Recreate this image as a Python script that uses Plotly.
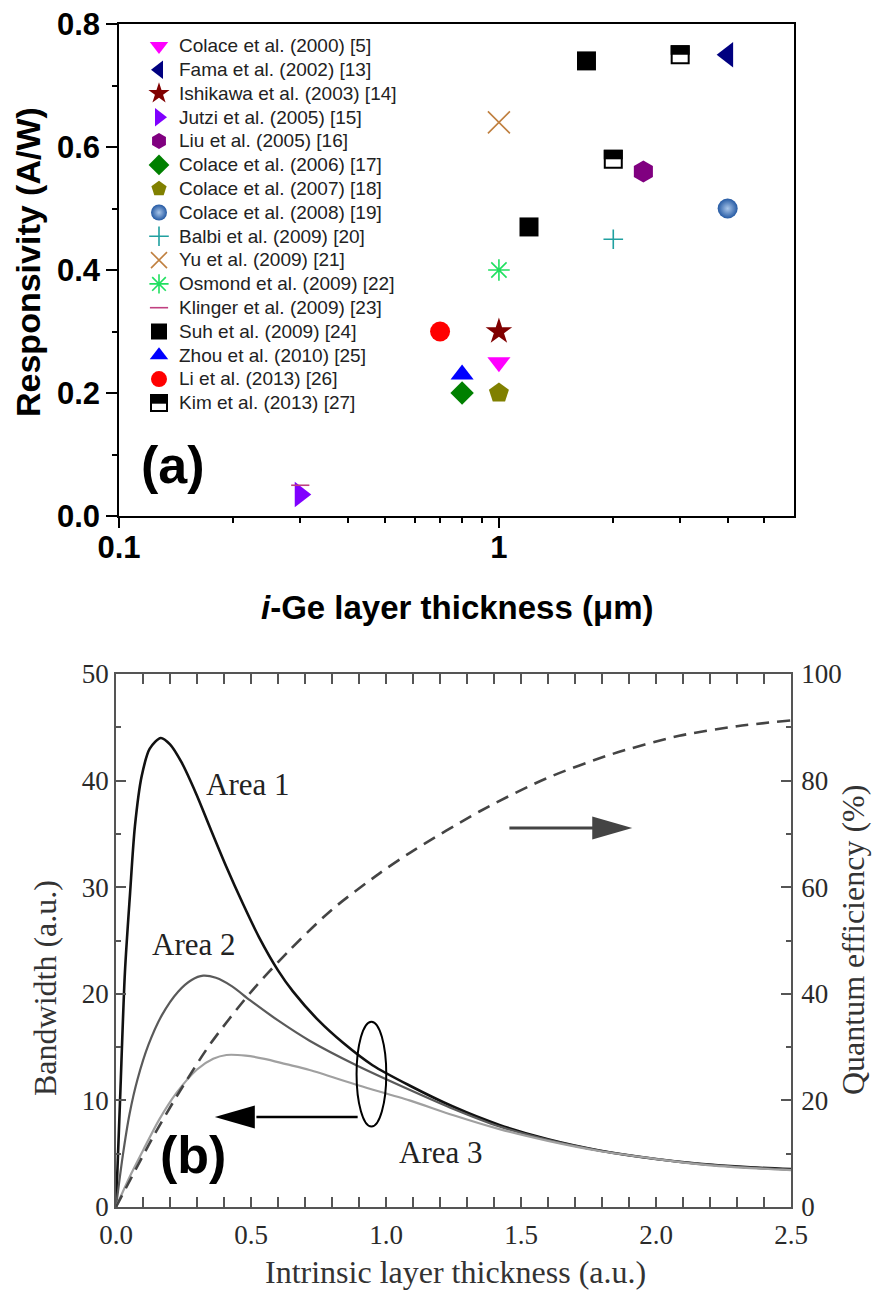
import plotly.graph_objects as go
import numpy as np

W, H = 885, 1290

# ---------------- Panel (a) data ----------------
names = [
    "Colace et al. (2000) [5]", "Fama et al. (2002) [13]", "Ishikawa et al. (2003) [14]",
    "Jutzi et al. (2005) [15]", "Liu et al. (2005) [16]", "Colace et al. (2006) [17]",
    "Colace et al. (2007) [18]", "Colace et al. (2008) [19]", "Balbi et al. (2009) [20]",
    "Yu et al. (2009) [21]", "Osmond et al. (2009) [22]", "Klinger et al. (2009) [23]",
    "Suh et al. (2009) [24]", "Zhou et al. (2010) [25]", "Li et al. (2013) [26]",
    "Kim et al. (2013) [27]",
]
thickness_um = [
    [1.0], [4.0], [1.0], [0.3], [2.4], [0.8], [1.0], [4.0], [2.0], [1.0], [1.0], [0.3],
    [1.7, 1.2], [0.8], [0.7], [3.0, 2.0],
]
responsivity = [
    [0.25], [0.75], [0.30], [0.035], [0.56], [0.20], [0.20], [0.50], [0.45], [0.64], [0.40], [0.05],
    [0.74, 0.47], [0.23], [0.30], [0.75, 0.58],
]
x_ticks_a = [0.1, 1]
x_ticklabels_a = ["0.1", "1"]
x_minor_a = [0.2, 0.3, 0.4, 0.5, 0.6, 0.7, 0.8, 0.9, 2, 3, 4, 5]
y_ticks_a = [0.0, 0.2, 0.4, 0.6, 0.8]
y_ticklabels_a = ["0.0", "0.2", "0.4", "0.6", "0.8"]
y_minor_a = [0.1, 0.3, 0.5, 0.7]

# ---------------- Panel (b) data ----------------
area1_x = [0, 0.015, 0.033, 0.052, 0.07, 0.095, 0.125, 0.166, 0.2, 0.243, 0.298, 0.348, 0.409,
           0.471, 0.53, 0.6, 0.656, 0.75, 0.841, 0.95, 1.087, 1.25, 1.42, 1.6, 1.79, 2.0, 2.16, 2.35, 2.5]
area1_bw = [0, 10, 22, 29.4, 35.7, 40.4, 43.0, 44.0, 43.4, 41.7, 38.7, 35.6, 31.9,
            28.4, 25.3, 22.2, 20.2, 17.5, 15.4, 13.3, 11.4, 9.4, 7.7, 6.35, 5.3, 4.5, 4.05, 3.72, 3.55]
area2_x = [0, 0.025, 0.05, 0.08, 0.12, 0.17, 0.23, 0.28, 0.323, 0.37, 0.43, 0.496, 0.6, 0.717,
           0.89, 1.087, 1.25, 1.42, 1.6, 1.79, 2.0, 2.16, 2.35, 2.5]
area2_bw = [0, 4.8, 8.7, 12.0, 15.2, 18.0, 20.2, 21.3, 21.7, 21.5, 20.7, 19.4, 17.5, 15.6,
            13.3, 11.0, 9.2, 7.55, 6.3, 5.3, 4.5, 4.05, 3.7, 3.5]
area3_x = [0, 0.05, 0.101, 0.16, 0.224, 0.3, 0.36, 0.409, 0.48, 0.55, 0.63, 0.717, 0.9, 1.087,
           1.25, 1.42, 1.6, 1.79, 2.0, 2.16, 2.35, 2.5]
area3_bw = [0, 2.8, 5.35, 8.2, 10.7, 12.9, 13.9, 14.26, 14.2, 13.9, 13.4, 12.85, 11.4, 10.0,
            8.6, 7.3, 6.2, 5.25, 4.5, 4.0, 3.65, 3.45]
qe_x = [0, 0.138, 0.224, 0.348, 0.496, 0.643, 0.8, 0.976, 1.087, 1.346, 1.593, 1.839, 2.086, 2.3, 2.5]
qe_pct = [0, 13.2, 20.7, 30.5, 40.1, 48.2, 55.8, 62.6, 66.4, 74.2, 80.4, 85.0, 88.4, 90.2, 91.3]

# ---------------- styles ----------------
symbols = ["triangle-down", "triangle-left", "star", "triangle-right", "hexagon", "diamond",
           "pentagon", "circle", "cross-thin", "x-thin", "asterisk", "line-ew", "square",
           "triangle-up", "circle", "square"]
colors = ["#ff00ff", "#000080", "#800000", "#8000ff", "#800080", "#008000", "#808000",
          "#2459a3", "#20a0a0", "#c08040", "#20e060", "#c04080", "#000000", "#0000ff",
          "#ff0000", "#000000"]
sizes = [20, 22, 20, 22, 22, 18, 21, 20, 14, 22, 18, 13, 19, 20, 20, 17]
line_only = {"cross-thin", "x-thin", "asterisk", "line-ew"}

SANS = "Liberation Sans"
SERIF = "Liberation Serif"

# legend placement (px)
LEG_LEFT, LEG_TOP = 139, 29
LEG_SYM_DX, LEG_SYM_DY, LEG_ROW = 19.2, 19.2, 23.7


def px(x):
    return x / W


def py(y):
    return 1 - y / H


fig = go.Figure()

for i, nm in enumerate(names):
    sym = symbols[i]
    mk = dict(symbol=sym, size=sizes[i], color=colors[i], line=dict(width=0))
    if sym in line_only:
        mk["line"] = dict(width=1.6, color=colors[i])
    if i == 7:
        mk["gradient"] = dict(type="radial", color="#a9c6ea")
    if i == 15:
        mk["color"] = "rgba(255,255,255,0)"
        mk["line"] = dict(width=2, color="black")
    fig.add_trace(go.Scatter(
        x=thickness_um[i], y=responsivity[i], mode="markers",
        name='<span style="font-size:19px">' + nm + "</span>",
        marker=mk, xaxis="x", yaxis="y", hoverinfo="skip"))

# panel b curves
fig.add_trace(go.Scatter(x=area1_x, y=area1_bw, mode="lines", xaxis="x2", yaxis="y2",
                         line=dict(color="#111111", width=2.6, shape="spline", smoothing=0.8),
                         showlegend=False))
fig.add_trace(go.Scatter(x=area2_x, y=area2_bw, mode="lines", xaxis="x2", yaxis="y2",
                         line=dict(color="#5a5a5a", width=2.2, shape="spline", smoothing=0.8),
                         showlegend=False))
fig.add_trace(go.Scatter(x=area3_x, y=area3_bw, mode="lines", xaxis="x2", yaxis="y2",
                         line=dict(color="#a0a0a0", width=2.2, shape="spline", smoothing=0.8),
                         showlegend=False))
fig.add_trace(go.Scatter(x=qe_x, y=qe_pct, mode="lines", xaxis="x2", yaxis="y3",
                         line=dict(color="#444444", width=2.6, dash="13px,8px", shape="spline",
                                   smoothing=0.8),
                         showlegend=False))

tickfont_a = dict(family=SANS, size=31, color="black", weight="bold")
tickfont_b = dict(family=SERIF, size=27, color="#2a2a2a")

layout_axes = dict(
    xaxis=dict(type="log", domain=[px(119), px(794)], anchor="y", range=[-1, np.log10(5.98)],
               tickmode="array", tickvals=x_ticks_a, ticktext=x_ticklabels_a,
               ticks="outside", ticklen=10, tickwidth=1.5, tickcolor="black",
               ticklabelstandoff=-7,
               showline=True, linecolor="black", linewidth=1.5, mirror=True,
               showgrid=False, zeroline=False, tickfont=tickfont_a,
               minor=dict(tickmode="array", tickvals=x_minor_a, ticks="outside", ticklen=5,
                          tickwidth=1.5, tickcolor="black", showgrid=False)),
    yaxis=dict(domain=[py(516), py(24)], anchor="x", range=[0, 0.8],
               tickmode="array", tickvals=y_ticks_a, ticktext=y_ticklabels_a,
               ticks="outside", ticklen=11, tickwidth=1.5, tickcolor="black",
               showline=True, linecolor="black", linewidth=1.5, mirror=True,
               showgrid=False, zeroline=False, tickfont=tickfont_a,
               minor=dict(tickmode="array", tickvals=y_minor_a, ticks="outside", ticklen=5,
                          tickwidth=1.5, tickcolor="black", showgrid=False)),
    xaxis2=dict(domain=[px(116), px(791)], anchor="y2", range=[0, 2.5], dtick=0.5, tick0=0,
                tickformat=".1f", ticks="inside", ticklen=10, tickwidth=1.5, tickcolor="#555",
                ticklabelstandoff=3,
                showline=True, linecolor="#555", linewidth=1.5, mirror="allticks",
                showgrid=False, zeroline=False, tickfont=tickfont_b,
                minor=dict(dtick=0.1, ticks="inside", ticklen=5, tickwidth=1.5,
                           tickcolor="#555", showgrid=False)),
    yaxis2=dict(domain=[py(1207), py(674)], anchor="x2", range=[0, 50], dtick=10, tick0=0,
                ticks="inside", ticklen=10, tickwidth=1.5, tickcolor="#555",
                showline=True, linecolor="#555", linewidth=1.5,
                showgrid=False, zeroline=False, tickfont=tickfont_b,
                minor=dict(dtick=5, ticks="inside", ticklen=5, tickwidth=1.5,
                           tickcolor="#555", showgrid=False)),
    yaxis3=dict(overlaying="y2", side="right", anchor="x2", range=[0, 100], dtick=20, tick0=0,
                ticks="inside", ticklen=10, tickwidth=1.5, tickcolor="#555",
                ticklabelstandoff=3,
                showline=True, linecolor="#555", linewidth=1.5,
                showgrid=False, zeroline=False, tickfont=tickfont_b,
                minor=dict(dtick=10, ticks="inside", ticklen=5, tickwidth=1.5,
                           tickcolor="#555", showgrid=False)),
)

annotations = [
    dict(text="<b>(a)</b>", x=px(173), y=py(465), xref="paper", yref="paper", showarrow=False,
         font=dict(family=SANS, size=52, color="black"), xanchor="center", yanchor="middle"),
    dict(text="<b>Responsivity (A/W)</b>", x=px(28), y=py(262), xref="paper", yref="paper",
         showarrow=False, textangle=-90, font=dict(family=SANS, size=34, color="black"),
         xanchor="center", yanchor="middle"),
    dict(text="<b><i>i</i>-Ge layer thickness (μm)</b>", x=px(457), y=py(607), xref="paper",
         yref="paper", showarrow=False, font=dict(family=SANS, size=33, color="black"),
         xanchor="center", yanchor="middle"),
    dict(text="Bandwidth (a.u.)", x=px(45), y=py(988), xref="paper", yref="paper",
         showarrow=False, textangle=-90, font=dict(family=SERIF, size=32, color="#333"),
         xanchor="center", yanchor="middle"),
    dict(text="Quantum efficiency (%)", x=px(853), y=py(940), xref="paper", yref="paper",
         showarrow=False, textangle=-90, font=dict(family=SERIF, size=32, color="#333"),
         xanchor="center", yanchor="middle"),
    dict(text="Intrinsic layer thickness (a.u.)", x=px(455), y=py(1272), xref="paper",
         yref="paper", showarrow=False, font=dict(family=SERIF, size=32, color="#333"),
         xanchor="center", yanchor="middle"),
    dict(text="Area 1", x=0.486, y=39.6, xref="x2", yref="y2", showarrow=False,
         font=dict(family=SERIF, size=31, color="#222"), xanchor="center", yanchor="middle"),
    dict(text="Area 2", x=0.288, y=24.6, xref="x2", yref="y2", showarrow=False,
         font=dict(family=SERIF, size=31, color="#222"), xanchor="center", yanchor="middle"),
    dict(text="Area 3", x=1.202, y=5.07, xref="x2", yref="y2", showarrow=False,
         font=dict(family=SERIF, size=31, color="#222"), xanchor="center", yanchor="middle"),
    dict(text="<b>(b)</b>", x=0.285, y=4.9, xref="x2", yref="y2", showarrow=False,
         font=dict(family=SANS, size=52, color="black"), xanchor="center", yanchor="middle"),
]

shapes = [
    # ellipse grouping the curves
    dict(type="circle", xref="x2", yref="y2", x0=0.891, x1=1.001, y0=7.54, y1=17.38,
         line=dict(color="black", width=2)),
    # left arrow (to bandwidth axis)
    dict(type="line", xref="x2", yref="y2", x0=0.895, x1=0.52, y0=8.44, y1=8.44,
         line=dict(color="black", width=2.5)),
    dict(type="path", xref="x2", yref="y2", xsizemode="pixel", ysizemode="pixel",
         xanchor=0.366, yanchor=8.44, path="M0,0 L40,11.5 L40,-11.5 Z",
         fillcolor="black", line=dict(width=0)),
    # right arrow (to QE axis)
    dict(type="line", xref="x2", yref="y2", x0=1.457, x1=1.77, y0=35.55, y1=35.55,
         line=dict(color="#444", width=3)),
    dict(type="path", xref="x2", yref="y2", xsizemode="pixel", ysizemode="pixel",
         xanchor=1.912, yanchor=35.55, path="M0,0 L-40,11.5 L-40,-11.5 Z",
         fillcolor="#444", line=dict(width=0)),
]
# top-half fill of the half-filled squares (Kim et al.)
for kx, ky in zip(thickness_um[15], responsivity[15]):
    shapes.append(dict(type="path", xref="x", yref="y", xsizemode="pixel", ysizemode="pixel",
                       xanchor=kx, yanchor=ky, path="M-9.5,0 L9.5,0 L9.5,9.5 L-9.5,9.5 Z",
                       fillcolor="black", line=dict(width=0), layer="above"))
# same top-half fill behind the (transparent) legend symbol of Kim et al.
kim_cx = LEG_LEFT + LEG_SYM_DX
kim_cy = LEG_TOP + LEG_SYM_DY + LEG_ROW * (len(names) - 1)
shapes.append(dict(type="rect", xref="paper", yref="paper",
                   x0=px(kim_cx - 8), x1=px(kim_cx + 8),
                   y0=py(kim_cy), y1=py(kim_cy - 8),
                   fillcolor="black", line=dict(width=0), layer="above"))

fig.update_layout(
    width=W, height=H, margin=dict(l=0, r=0, t=0, b=0, autoexpand=False),
    paper_bgcolor="white", plot_bgcolor="white",
    showlegend=True,
    legend=dict(x=px(LEG_LEFT), y=py(LEG_TOP), xanchor="left", yanchor="top",
                font=dict(family=SANS, size=16, color="#222"),
                bgcolor="rgba(0,0,0,0)", borderwidth=0, tracegroupgap=0, itemsizing="trace"),
    annotations=annotations, shapes=shapes,
    **layout_axes,
)

fig.write_html("out.html")
